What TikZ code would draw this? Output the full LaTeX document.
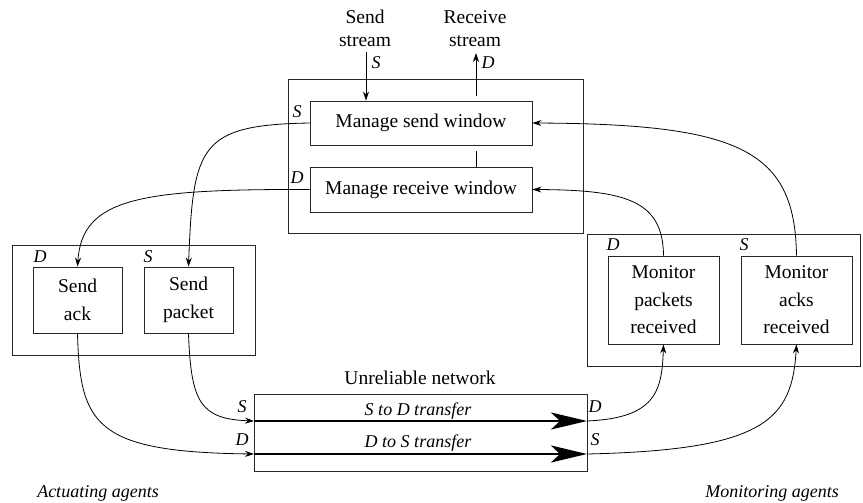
\documentclass[tikz,border=0pt]{standalone}
\usepackage{fontspec}
\setmainfont{Liberation Serif}
\usetikzlibrary{arrows.meta,calc}
\begin{document}
\begin{tikzpicture}[x=1pt,y=-1pt,
  box/.style={draw=black!85,line width=0.9pt,rectangle,inner sep=0pt,align=center,
    font=\fontsize{19.5}{27.5}\selectfont},
  group/.style={draw=black!85,line width=0.9pt,rectangle,inner sep=0pt},
  tag/.style={inner sep=0pt,font=\fontsize{18}{20}\selectfont\itshape},
  caption/.style={inner sep=0pt,align=center,font=\fontsize{19.5}{23}\selectfont},
  link/.style={line width=0.8pt,-{Stealth[length=9pt,width=6pt]}},
  plain/.style={line width=0.8pt},
  transfer/.style={line width=2.6pt,-{Stealth[length=36pt,width=17pt,inset=9pt]}}]
\useasboundingbox (0,0) rectangle (863,503);

% window management group
\node[group,minimum width=295pt,minimum height=154pt] (top) at (435.5,156) {};
\node[box,minimum width=222pt,minimum height=44pt] (sw) at (421,123) {Manage send window};
\node[box,minimum width=222pt,minimum height=45pt] (rw) at (421,189.5) {Manage receive window};

% actuating agents
\node[group,minimum width=243pt,minimum height=110pt] (act) at (133.5,300) {};
\node[box,minimum width=89pt,minimum height=66pt] (sa) at (77.5,300) {Send\\ack};
\node[box,minimum width=89pt,minimum height=66pt] (sp) at (188.5,300) {Send\\packet};

% monitoring agents
\node[group,minimum width=273pt,minimum height=132pt] (mon) at (723.5,300) {};
\node[box,minimum width=111pt,minimum height=88pt] (mp) at (663.5,300) {Monitor\\packets\\received};
\node[box,minimum width=111pt,minimum height=88pt] (ma) at (796.5,300) {Monitor\\acks\\received};

% network
\node[group,minimum width=333pt,minimum height=77pt] (net) at (420.5,432.5) {};
\node[caption] (netlbl) at (420,378) {Unreliable network};
\coordinate (sdL) at (254,421);
\coordinate (sdR) at (587,421);
\coordinate (dsL) at (254,454);
\coordinate (dsR) at (587,454);
\draw[transfer] (sdL) -- (sdR);
\draw[transfer] (dsL) -- (dsR);
\node[tag] (sdlbl) at (418,411) {S to D transfer};
\node[tag] (dslbl) at (418,443) {D to S transfer};

% streams
\node[caption] (ss) at (365,28.5) {Send\\stream};
\node[caption] (rs) at (475,28.5) {Receive\\stream};
\coordinate (ssTop) at (366,52);
\coordinate (rsTop) at (476,53);
\draw[link] (ssTop) -- (ssTop |- sw.north);
\draw[link,shorten <=5pt] (rsTop |- sw.north) -- (rsTop);
\draw[plain,shorten <=6pt] (rsTop |- sw.south) -- (rsTop |- rw.north);

% role labels
\node[tag] (l1) at (376,63) {S};
\node[tag] (l2) at (488,63) {D};
\node[tag] (l3) at (297,112) {S};
\node[tag] (l4) at (297,178) {D};
\node[tag] (l5) at (40,257) {D};
\node[tag] (l6) at (148,257) {S};
\node[tag] (l7) at (613,245) {D};
\node[tag] (l8) at (744,245) {S};
\node[tag] (l9) at (242,407) {S};
\node[tag] (l10) at (242,440) {D};
\node[tag] (l11) at (595,407) {D};
\node[tag] (l12) at (595,440) {S};

% window managers drive the senders
\draw[link] (sw.west) .. controls (200,125) and (193,145) .. (sp.north);
\draw[link] (rw.west) .. controls (140,189) and (82,198) .. (sa.north);

% senders feed the network
\draw[link] (sp.south) .. controls (191,402) and (200,419) .. (sdL);
\draw[link] (sa.south) .. controls (80,425) and (95,452) .. (dsL);

% network feeds the monitors
\draw[link] (sdR) .. controls (655,418) and (662,392) .. (mp.south);
\draw[link] (dsR) .. controls (765,450) and (792,420) .. (ma.south);

% monitors report back to the window managers
\draw[link] (mp.north) .. controls (663,200) and (625,190) .. (rw.east);
\draw[link] (ma.north) .. controls (795,150) and (740,124) .. (sw.east);

% captions
\node[tag] (actlbl) at (98,493) {Actuating agents};
\node[tag] (monlbl) at (772,493) {Monitoring agents};
\end{tikzpicture}
\end{document}
